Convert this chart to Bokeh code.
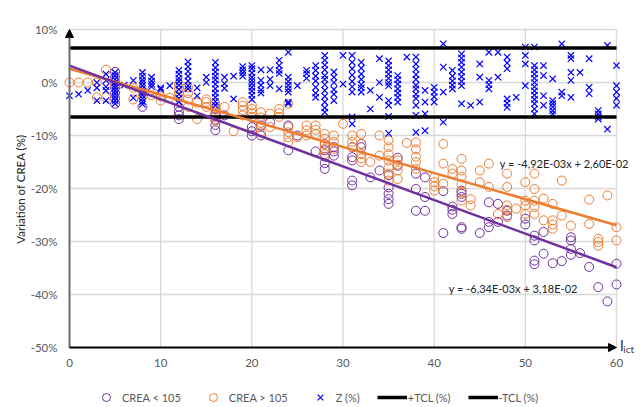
from bokeh.plotting import figure
from bokeh.models import (Range1d, Arrow, NormalHead, Label, Legend, LegendItem)
from bokeh.core.properties import value
from bokeh.embed import file_html
from bokeh.resources import INLINE
import math

# ---------------- data (in %) ----------------
# CREA < 105 : x -> list of y values
crea_low = {
    5: [2.0, 1.0, 0.0, -1.0, -2.0, -3.0, -4.0],
    8: [-4.6], 12: [-4.6, -5.5, -6.2, -6.9],
    16: [-5.0, -6.0, -7.0, -8.0, -9.0], 17: [-6.2],
    20: [-8.4, -9.2, -10.0], 21: [-8.1, -10.0], 22: [-7.5],
    24: [-8.1, -12.8], 25: [-10.0], 27: [-13.0],
    28: [-11.6, -12.8, -14.0, -15.2, -16.3], 29: [-12.2, -13.0, -13.8],
    31: [-12.2, -14.1, -14.7, -18.5, -19.4], 32: [-11.6, -12.2],
    33: [-17.9], 34: [-16.6], 35: [-17.5, -19.8, -21.0, -22.0, -22.9],
    36: [-14.2, -15.7], 38: [-17.2, -20.1, -24.2], 39: [-17.9, -21.6, -24.2],
    41: [-20.5, -28.4], 42: [-23.4, -24.0, -24.8],
    43: [-20.4, -21.0, -21.6, -27.3, -27.6], 45: [-28.4],
    46: [-22.6, -26.3, -27.3], 47: [-22.9, -26.3], 48: [-24.2, -25.1],
    50: [-25.7, -26.8], 51: [-28.9, -29.8, -33.6, -34.3], 52: [-28.2, -32.3],
    53: [-34.1], 54: [-33.7], 55: [-29.2, -29.8, -31.4, -32.5], 56: [-32.2],
    57: [-34.8], 58: [-38.6], 59: [-41.3], 60: [-34.2, -38.1],
}
# CREA > 105
crea_high = {
    0: [0.0], 1: [0.0], 2: [0.0], 3: [0.0, -2.8], 4: [2.4, -2.8], 5: [0.5, -0.5],
    7: [-1.0, -3.2], 8: [-1.6, -2.6], 9: [-1.5, -2.4], 10: [-2.6, -3.4], 11: [-2.9],
    12: [-0.3, -1.2, -2.0, -2.8], 13: [-0.9, -2.0, -3.2, -4.6], 14: [-3.8, -6.9],
    15: [-3.2, -3.7, -4.6], 16: [-4.0, -4.8, -5.7, -6.5, -7.2], 17: [-4.6],
    18: [-9.2], 19: [-3.7, -4.4, -5.2, -6.2], 20: [-4.3, -5.0, -5.8, -6.5],
    21: [-5.6, -6.6, -7.6, -8.4, -9.4], 22: [-5.9, -8.4], 23: [-5.0, -5.8, -6.5],
    24: [-4.0, -8.4, -9.4, -10.3, -11.3], 25: [-10.3], 26: [-8.1, -9.0, -10.0],
    27: [-8.1, -8.9, -9.7], 28: [-9.7, -10.6, -11.6, -12.5, -13.5],
    29: [-10.0, -11.2, -12.5], 30: [-7.8], 31: [-10.0, -11.2, -12.2],
    32: [-9.7, -11.6, -13.5, -14.3, -15.0], 33: [-15.0], 34: [-10.0, -13.8],
    35: [-10.9, -12.2, -13.5, -14.7, -16.0, -17.2, -18.5],
    36: [-14.7, -15.5, -16.6, -18.2], 37: [-11.4],
    38: [-11.3, -12.6, -14.0, -15.0, -16.3], 40: [-17.9, -18.8, -19.6, -20.4],
    41: [-11.6, -15.3, -19.1], 42: [-16.3, -17.2],
    43: [-14.4, -16.6, -17.8, -19.2, -20.6, -22.3], 44: [-22.0, -23.2],
    45: [-16.6, -18.8], 46: [-15.3, -19.7], 47: [-24.8],
    48: [-17.2, -19.7, -23.2, -24.0, -25.4], 49: [-23.8],
    50: [-18.8, -22.3, -23.2, -24.8], 51: [-17.2, -20.1, -22.3, -23.5, -24.8],
    52: [-21.9, -26.0], 53: [-22.9, -26.0, -26.8, -27.6], 54: [-18.5, -25.1],
    55: [-27.0], 57: [-22.1, -26.7], 58: [-29.5, -30.1, -30.8], 59: [-21.3],
    60: [-27.3, -29.8],
}
# Z (%)
z_pct = {
    0: [-2.5], 1: [-2.2], 2: [-1.5], 3: [0.0, -1.0, -3.4], 4: [1.6, 0.4, -0.8, -1.5, -3.4],
    5: [1.9, 1.3, 0.6, 0.0, -0.5, -1.0, -1.6, -2.2, -2.8, -3.4, -4.0], 6: [-0.5],
    7: [0.4, -2.9], 8: [1.9, 1.2, 0.5, 0.0, -0.6, -1.2, -1.8, -2.4, -3.0, -3.6, -4.1],
    9: [1.0, 0.3, -0.3, -0.8], 10: [-1.0, -1.3], 11: [-0.6],
    12: [2.3, 1.6, 0.8, 0.2, -0.5, -1.3, -2.2, -3.0, -3.7],
    13: [3.9, 3.0, 2.1, 1.2, 0.3, -0.6, -1.2], 14: [-1.0, -2.5], 15: [1.0, 0.0],
    16: [3.8, 2.8, 2.0, 1.2, 0.5, -0.3, -1.2, -2.0, -2.8, -3.6, -4.3],
    17: [1.0, -0.2, -1.1], 18: [1.2, -3.1], 19: [3.0, 2.4, 1.8, 1.2],
    20: [3.2, 2.6, 1.8, 1.0, 0.4, -0.2, -0.9, -1.6, -2.4, -3.2],
    21: [2.4, 0.4, -0.5, -1.4, -2.0], 22: [2.4, 0.6, -0.6], 23: [4.2, 3.2, 2.3, 1.7, -1.2],
    24: [5.7, 1.0, 0.2, -0.5, -1.2, -1.8, -3.7, -4.0], 25: [-0.6], 26: [2.3, 1.7, 0.8],
    27: [3.2, 2.3, 1.2, 0.3, -0.9, -2.0, -2.8],
    28: [5.1, 4.2, 3.3, 2.4, 1.3, 0.6, -0.4, -1.5, -2.6, -3.7, -4.8, -5.6],
    29: [2.0, 1.0, 0.0, -1.3, -2.2, -3.4], 30: [5.1, -0.3],
    31: [5.1, 3.8, 2.6, 1.4, 0.2, -0.8, -1.8, -6.5, -7.8],
    32: [3.8, 2.7, 1.6, 0.6, -0.4, -1.0, -1.8], 33: [-1.5, -5.0], 34: [4.5, 0.0, -2.8],
    35: [4.1, 3.2, 2.4, 1.6, 0.8, 0.0, -0.6, -3.4, -4.3, -6.4, -9.6],
    36: [1.3, 0.5, -0.3, -1.2, -2.0, -2.8, -3.7], 37: [4.8],
    38: [4.8, 3.5, 2.5, 1.5, 0.6, -0.5, -1.2, -2.2, -3.0, -4.3, -6.2, -9.4],
    39: [-1.5, -3.7, -5.9, -9.1], 40: [-0.9, -1.8, -2.7, -3.7], 41: [7.3, 2.9, -1.8, -7.5],
    42: [2.3, 1.2, 0.3, -0.5, -1.2], 43: [5.4, 4.6, 3.8, 2.9, 2.0, 1.1, 0.2, -0.6, -4.0],
    44: [-4.3], 45: [3.5, 1.0, -3.7], 46: [5.7, 0.4, -0.4, -1.2], 47: [5.7, 1.0],
    48: [4.8, 3.7, 2.6, -3.1, -3.9, -4.7], 49: [-2.8], 50: [6.7, 5.1, 3.5, -0.6],
    51: [6.7, 3.2, 2.4, 1.6, 0.8, 0.0, -0.8, -1.6, -2.4, -3.2, -4.0, -5.0, -5.9],
    52: [3.2, 1.3, -2.5, -4.3], 53: [0.7, -3.4, -4.0, -4.6, -5.3, -5.9],
    54: [7.3, -1.8, -2.5], 55: [5.1, 4.5, 1.9, 0.4, -2.8], 56: [1.9],
    57: [4.5, -0.9, -2.1], 58: [-5.3, -5.9, -6.5, -6.9], 59: [7.0, -8.8],
    60: [3.2, -0.6, -1.8, -3.0, -4.3],
}
tcl_plus = 6.5
tcl_minus = -6.5
x_span = [0, 60]
# trendlines (fraction units as printed): slope, intercept
trend_high = (-4.92e-03, 2.60e-02)
trend_low = (-6.34e-03, 3.18e-02)
trend_high_label = "y = -4,92E-03x + 2,60E-02"
trend_low_label = "y = -6,34E-03x + 3,18E-02"
x_ticks = [0, 10, 20, 30, 40, 50, 60]
x_tick_labels = ["0", "10", "20", "30", "40", "50", "60"]
y_ticks = [-50, -40, -30, -20, -10, 0, 10]
y_tick_labels = ["-50%", "-40%", "-30%", "-20%", "-10%", "0%", "10%"]
y_title = "Variation of CREA (%)"
series_labels = ["CREA < 105", "CREA > 105", "Z (%)", "+TCL (%)", "-TCL (%)"]

PURPLE = "#7030A0"
ORANGE = "#ED7D31"
BLUE = "#0000FF"
GRID = "#D9D9D9"
TXT = "#595959"
FONT = "Lato"

W, H = 641, 407
# plot area in pixels (x: 0..60, y: -50..10)
PL, PR, PT, PB = 69.0, 616.0, 29.0, 347.0
sx = (PR - PL) / 60.0
sy = (PB - PT) / 60.0
x0 = -PL / sx
x1 = 60 + (W - PR) / sx
y1 = 10 + PT / sy
y0 = -50 - (H - PB) / sy


def flat(d):
    xs, ys = [], []
    for k, vals in d.items():
        for v in vals:
            xs.append(k)
            ys.append(v)
    return xs, ys


p = figure(width=W, height=H, x_range=Range1d(x0, x1), y_range=Range1d(y0, y1),
           output_backend="svg", toolbar_location=None, title=None,
           x_axis_location=None, y_axis_location=None,
           min_border=0, min_border_left=0, min_border_right=0,
           min_border_top=0, min_border_bottom=0)
p.outline_line_color = None
p.xgrid.visible = False
p.ygrid.visible = False
p.background_fill_color = "white"
p.border_fill_color = "white"

# gridlines
gx = [[t, t] for t in x_ticks if t != 0]
gy = [[y_ticks[0], y_ticks[-1]] for _ in gx]
hx = [[x_ticks[0], x_ticks[-1]] for t in y_ticks if t != y_ticks[0]]
hy = [[t, t] for t in y_ticks if t != y_ticks[0]]
p.multi_line(gx + hx, gy + hy, line_color=GRID, line_width=1.3)

# tick labels
p.text(x=x_ticks, y=[-50 - 15.5 / sy] * len(x_ticks), text=x_tick_labels,
       text_font=value(FONT), text_font_size=value("11.5px"), text_color=TXT,
       text_align="center", text_baseline="middle")
p.text(x=[-12.0 / sx] * len(y_ticks), y=y_ticks, text=y_tick_labels,
       text_font=value(FONT), text_font_size=value("11.5px"), text_color=TXT,
       text_align="right", text_baseline="middle")
p.text(x=[-49.0 / sx], y=[-20.1], text=[y_title], angle=math.pi / 2,
       text_font=value(FONT), text_font_size=value("11.5px"), text_color="#262626",
       text_align="center", text_baseline="middle")

# scatter series
lx, ly = flat(crea_low)
hxs, hys = flat(crea_high)
zx, zy = flat(z_pct)
r_low = p.scatter(lx, ly, marker="circle", size=9, fill_color=None, line_color=PURPLE, line_width=1)
r_high = p.scatter(hxs, hys, marker="circle", size=9, fill_color=None, line_color=ORANGE, line_width=1)
r_z = p.scatter(zx, zy, marker="x", size=9, line_color=BLUE, line_width=1.2)

# TCL lines
r_tp = p.line(x_span, [tcl_plus, tcl_plus], line_color="black", line_width=3.5)
r_tm = p.line(x_span, [tcl_minus, tcl_minus], line_color="black", line_width=3.5)

# trendlines (convert fraction -> %)
for (m, b), col in ((trend_high, ORANGE), (trend_low, PURPLE)):
    p.line(x_span, [100 * (m * x + b) for x in x_span], line_color=col, line_width=2.5)

# axis arrows
p.add_layout(Arrow(x_start=0, y_start=-50, x_end=0, y_end=10, line_color="#6E6E6E", line_width=2,
                   end=NormalHead(size=8, fill_color="black", line_color="black")))
p.add_layout(Arrow(x_start=0, y_start=-50, x_end=60, y_end=-50, line_color="black", line_width=2,
                   end=NormalHead(size=8, fill_color="black", line_color="black")))

# x axis label I_ict
p.add_layout(Label(x=60.35, y=-49.6, text="I", text_font=FONT, text_font_size="15px",
                   text_color="#404040", text_baseline="alphabetic"))
p.add_layout(Label(x=60.75, y=-50.3, text="ict", text_font=FONT, text_font_size="10px",
                   text_color="#404040", text_baseline="alphabetic"))

# trendline equations
p.add_layout(Label(x=47.2, y=-15.3, text=trend_high_label, text_font=FONT, text_font_size="11px",
                   text_color="#222222", text_baseline="middle"))
p.add_layout(Label(x=41.6, y=-38.8, text=trend_low_label, text_font=FONT, text_font_size="11px",
                   text_color="#222222", text_baseline="middle"))

legend = Legend(items=[LegendItem(label=series_labels[0], renderers=[r_low]),
                       LegendItem(label=series_labels[1], renderers=[r_high]),
                       LegendItem(label=series_labels[2], renderers=[r_z]),
                       LegendItem(label=series_labels[3], renderers=[r_tp]),
                       LegendItem(label=series_labels[4], renderers=[r_tm])],
                location=(91, 0), orientation="horizontal", glyph_width=30, glyph_height=20,
                label_height=20, label_standoff=1, spacing=17, padding=0, margin=0,
                border_line_color=None, background_fill_alpha=0,
                label_text_font=FONT, label_text_font_size="11px", label_text_color=TXT)
p.add_layout(legend, "center")

open("out.html", "w").write(file_html(p, INLINE))
